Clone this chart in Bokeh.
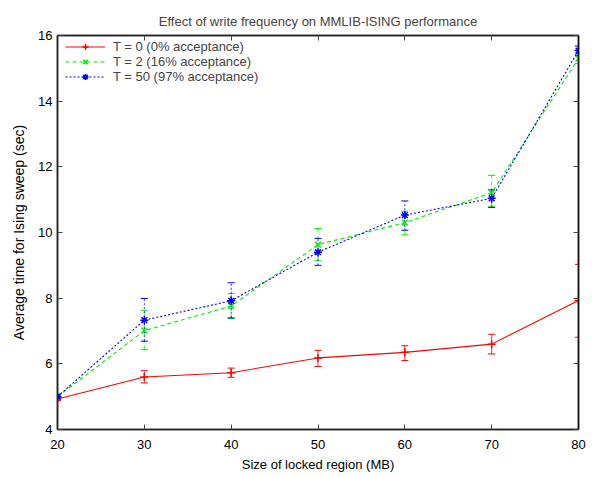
from bokeh.plotting import figure
from bokeh.models import (Whisker, ColumnDataSource, LinearAxis, Legend, LegendItem,
                          FixedTicker, TeeHead, CustomJSTickFormatter)
from bokeh.embed import file_html
from bokeh.resources import INLINE

sizes = [20, 30, 40, 50, 60, 70, 80]
yticks = [4, 6, 8, 10, 12, 14, 16]

t0_mean = [4.93, 5.60, 5.73, 6.18, 6.35, 6.60, 7.93]
t0_lo = [4.88, 5.42, 5.59, 5.92, 6.10, 6.30, 6.81]
t0_hi = [4.98, 5.79, 5.87, 6.41, 6.55, 6.90, 9.03]

t2_mean = [5.00, 7.01, 7.76, 9.63, 10.30, 11.21, 15.30]
t2_lo = [4.95, 6.43, 7.38, 9.14, 9.93, 10.80, 15.15]
t2_hi = [5.05, 7.63, 8.14, 10.12, 10.65, 11.74, 15.45]

t50_mean = [5.00, 7.33, 7.92, 9.40, 10.53, 11.04, 15.54]
t50_lo = [4.95, 6.69, 7.40, 9.00, 10.07, 10.76, 15.40]
t50_hi = [5.05, 7.99, 8.47, 9.82, 10.96, 11.30, 15.68]

labels = ["T = 0 (0% acceptance)", "T = 2 (16% acceptance)", "T = 50 (97% acceptance)"]
colors = ["#ff0000", "#00ee00", "#0000ff"]

FONT = "Liberation Sans"

p = figure(width=587, height=474, x_range=(20, 80), y_range=(4, 16),
           output_backend="svg", toolbar_location=None,
           title="Effect of write frequency on MMLIB-ISING performance",
           min_border_left=57, min_border_right=9, min_border_top=35, min_border_bottom=42)
p.title.align = "center"
p.title.text_font = FONT
p.title.text_font_size = "13px"
p.title.text_font_style = "normal"
p.title.offset = 0
p.title.standoff = 13
p.grid.visible = False
p.outline_line_color = "#222222"
p.outline_line_width = 1.5

for ax in [p.xaxis[0], p.yaxis[0]]:
    ax.major_tick_in = 5
    ax.major_tick_out = 0
    ax.minor_tick_in = 0
    ax.minor_tick_out = 0
    ax.axis_line_color = "#222222"
    ax.axis_line_width = 1.5
    ax.major_tick_line_color = "#444444"
    ax.major_label_text_font = FONT
    ax.major_label_text_font_size = "13px"
    ax.major_label_text_color = "black"
    ax.axis_label_text_font = FONT
    ax.axis_label_text_font_style = "normal"
    ax.axis_label_text_color = "black"
p.xaxis[0].ticker = FixedTicker(ticks=sizes)
p.yaxis[0].ticker = FixedTicker(ticks=yticks)
p.xaxis[0].axis_label = "Size of locked region (MB)"
p.xaxis[0].axis_label_text_font_size = "13px"
p.xaxis[0].axis_label_standoff = 5
p.xaxis[0].major_label_standoff = 10
p.yaxis[0].axis_label = "Average time for Ising sweep (sec)"
p.yaxis[0].axis_label_text_font_size = "14px"
p.yaxis[0].axis_label_standoff = 8
p.yaxis[0].major_label_standoff = 5

blank = CustomJSTickFormatter(code="return ''")
top = LinearAxis(ticker=FixedTicker(ticks=sizes), formatter=blank,
                 major_tick_in=5, major_tick_out=0, minor_tick_in=0, minor_tick_out=0,
                 major_label_standoff=0, major_label_text_font_size="1px",
                 axis_line_color="#222222", axis_line_width=1.5, major_tick_line_color="#444444")
right = LinearAxis(ticker=FixedTicker(ticks=yticks), formatter=blank,
                   major_tick_in=5, major_tick_out=0, minor_tick_in=0, minor_tick_out=0,
                   major_label_standoff=0, major_label_text_font_size="1px",
                   axis_line_color="#111111", axis_line_width=1.5, major_tick_line_color="#444444")
p.add_layout(top, "above")
p.add_layout(right, "right")

series = [
    (t0_mean, t0_lo, t0_hi, "solid", "cross"),
    (t2_mean, t2_lo, t2_hi, "4 3", "x"),
    (t50_mean, t50_lo, t50_hi, "2 2", "asterisk"),
]
items = []
for (m, lo, hi, dash, marker), col, lab in zip(series, colors, labels):
    src = ColumnDataSource(dict(x=sizes, y=m, lo=lo, hi=hi))
    w = Whisker(source=src, base="x", upper="hi", lower="lo", line_color=col,
                line_dash=dash, line_width=1, line_alpha=0.8,
                upper_head=TeeHead(size=7, line_color=col, line_width=1),
                lower_head=TeeHead(size=7, line_color=col, line_width=1))
    p.add_layout(w)
    r1 = p.line("x", "y", source=src, line_color=col, line_dash=dash, line_width=1.1)
    r2 = p.scatter("x", "y", source=src, marker=marker, size=8, line_color=col, line_width=1.5)
    items.append(LegendItem(label=lab, renderers=[r1, r2]))

leg = Legend(items=items, location=(8, 345), border_line_color=None,
             background_fill_alpha=0, label_text_font=FONT, label_text_font_size="13px",
             glyph_width=40, glyph_height=15, label_height=15, spacing=0,
             padding=0, margin=0, label_standoff=8)
p.add_layout(leg)

open("out.html", "w").write(file_html(p, INLINE))
